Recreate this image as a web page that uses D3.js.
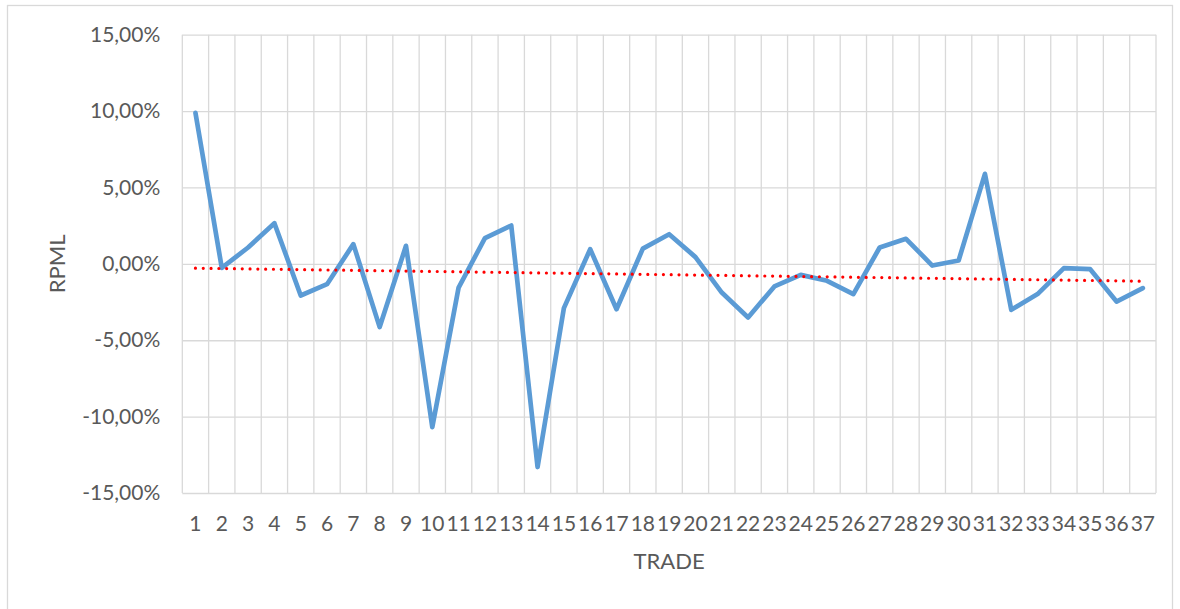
<!DOCTYPE html>
<html>
<head>
<meta charset="utf-8">
<script src="https://cdn.jsdelivr.net/npm/d3@7"></script>
<style>
  body { margin: 0; background: #fff; }
  text { font-family: Lato, "Open Sans", sans-serif; fill: #595959; }
</style>
</head>
<body>
<svg class="chart"></svg>
<script>
'use strict'

// trade numbers
const trades = d3.range(1, 38).map(String)
// RPML per trade (fraction)
const rpml = [
  0.0988, -0.0026, 0.0107, 0.0266, -0.0207, -0.0133, 0.0129, -0.0414, 0.0118, -0.1069,
  -0.0155, 0.0168, 0.0251, -0.1330, -0.0290, 0.0096, -0.0297, 0.0100, 0.0194, 0.0044,
  -0.0188, -0.0351, -0.0148, -0.0072, -0.0111, -0.0198, 0.0107, 0.0164, -0.0011, 0.0022,
  0.0589, -0.0301, -0.0198, -0.0028, -0.0035, -0.0247, -0.0159
]
const yTicks = [-0.15, -0.10, -0.05, 0, 0.05, 0.10, 0.15]

const size = { width: 1180, height: 609 }
const plot = { left: 182.3, right: 1156, top: 34.7, bottom: 493 }

const itLocale = d3.formatLocale({
  decimal: ',', thousands: '.', grouping: [3], currency: ['', '€'], minus: '-'
})
const pct = itLocale.format('.2%')

const svg = d3.select('.chart')
  .attr('width', size.width)
  .attr('height', size.height)

// chart border
svg.append('rect')
  .attr('x', 7.5).attr('y', 5.5)
  .attr('width', 1165).attr('height', 640)
  .attr('fill', 'none')
  .attr('stroke', '#d9d9d9')
  .attr('stroke-width', 1.3)

const x = d3.scaleBand()
  .domain(trades)
  .range([plot.left, plot.right])
  .padding(0)

const y = d3.scaleLinear()
  .domain([-0.15, 0.15])
  .range([plot.bottom, plot.top])

const cx = d => x(d) + x.bandwidth() / 2

// horizontal gridlines + y labels
svg.append('g')
  .attr('transform', `translate(${plot.left},0)`)
  .call(d3.axisLeft(y)
    .tickValues(yTicks)
    .tickFormat(pct)
    .tickSize(-(plot.right - plot.left))
    .tickPadding(22))
  .call(g => g.select('.domain').remove())
  .call(g => g.selectAll('line').attr('stroke', '#d9d9d9').attr('stroke-width', 1.3))
  .call(g => g.selectAll('text').attr('font-size', 21).attr('fill', '#595959'))

// vertical gridlines at category boundaries
const edges = trades.map(d => x(d)).concat([x.range()[1]])
svg.append('g')
  .selectAll('line')
  .data(edges)
  .enter()
  .append('line')
  .attr('x1', d => d).attr('x2', d => d)
  .attr('y1', plot.top).attr('y2', plot.bottom)
  .attr('stroke', '#d9d9d9')
  .attr('stroke-width', 1.3)

// x labels
svg.append('g')
  .attr('transform', `translate(0,${plot.bottom})`)
  .call(d3.axisBottom(x).tickSize(0).tickPadding(23))
  .call(g => g.select('.domain').remove())
  .call(g => g.selectAll('text').attr('font-size', 21).attr('fill', '#595959'))

// data line
const line = d3.line()
  .x((d, i) => cx(trades[i]))
  .y(d => y(d))

svg.append('path')
  .datum(rpml)
  .attr('d', line)
  .attr('fill', 'none')
  .attr('stroke', '#5b9bd5')
  .attr('stroke-width', 4.7)
  .attr('stroke-linejoin', 'round')
  .attr('stroke-linecap', 'round')

// linear trendline (least squares, like the spreadsheet one)
const xs = trades.map(Number)
const mx = d3.mean(xs)
const my = d3.mean(rpml)
const slope = d3.sum(xs, (v, i) => (v - mx) * (rpml[i] - my)) / d3.sum(xs, v => (v - mx) ** 2)
const icpt = my - slope * mx
const trend = [xs[0], xs[xs.length - 1]].map(v => icpt + slope * v)

svg.append('line')
  .attr('x1', cx(trades[0]))
  .attr('x2', cx(trades[trades.length - 1]))
  .attr('y1', y(trend[0]))
  .attr('y2', y(trend[1]))
  .attr('stroke', '#ff0000')
  .attr('stroke-width', 3.2)
  .attr('stroke-linecap', 'round')
  .attr('stroke-dasharray', '0 7.8')

// axis titles
svg.append('text')
  .attr('x', (plot.left + plot.right) / 2)
  .attr('y', 569)
  .attr('text-anchor', 'middle')
  .attr('font-size', 22)
  .text('TRADE')

svg.append('text')
  .attr('transform', `translate(65,${(plot.top + plot.bottom) / 2}) rotate(-90)`)
  .attr('text-anchor', 'middle')
  .attr('font-size', 22)
  .text('RPML')
</script>
</body>
</html>
